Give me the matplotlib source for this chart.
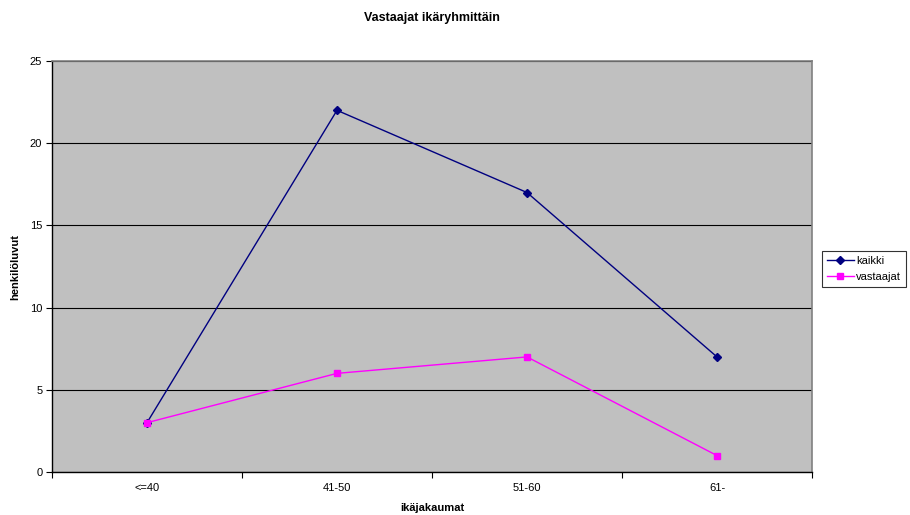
import matplotlib
matplotlib.use("Agg")
import numpy as np
from matplotlib import pyplot as plt

# data
ryhmat = ['<=40', '41-50', '51-60', '61-']
kaikki = [3, 22, 17, 7]
vastaajat = [3, 6, 7, 1]

plt.rcParams['font.family'] = ['Liberation Sans', 'DejaVu Sans']

fig = plt.figure(figsize=(9.1, 5.15), dpi=100)
ax = fig.add_axes([52/910, 1 - 472/515, 760/910, 411/515])
ax.set_facecolor('#c0c0c0')

x = np.arange(len(ryhmat))
ax.plot(x, kaikki, color='#000080', lw=1, marker='D', ms=4, label='kaikki')
ax.plot(x, vastaajat, color='#ff00ff', lw=1, marker='s', ms=5, label='vastaajat')

ax.set_xlim(-0.5, len(ryhmat) - 0.5)
ax.set_ylim(0, 25)
ax.set_yticks(range(0, 26, 5))
ax.yaxis.grid(True, color='black', lw=0.8)
ax.set_axisbelow(True)

ax.set_xticks(x)
ax.set_xticklabels(ryhmat)
ax.set_xticks(np.arange(-0.5, len(ryhmat), 1), minor=True)
ax.tick_params(axis='x', which='major', length=0, pad=8, labelsize=8)
ax.tick_params(axis='x', which='minor', length=4, direction='out', width=0.8)
ax.tick_params(axis='y', length=4, direction='out', width=0.8, labelsize=8, pad=3)

for s in ['top', 'right']:
    ax.spines[s].set_color('#808080')
    ax.spines[s].set_linewidth(1.2)
for s in ['left', 'bottom']:
    ax.spines[s].set_color('black')
    ax.spines[s].set_linewidth(1.0)

fig.text(0.5 * (52 + 812) / 910, 1 - 18/515, 'Vastaajat ikäryhmittäin',
         ha='center', va='center', fontsize=9, fontweight='bold')
ax.set_xlabel('ikäjakaumat', fontsize=8, fontweight='bold', labelpad=7)
ax.set_ylabel('henkilöluvut', fontsize=8, fontweight='bold', labelpad=7)

leg = ax.legend(loc='center left', bbox_to_anchor=(822/910, 1 - 269/515),
                bbox_transform=fig.transFigure, fontsize=8, frameon=True,
                fancybox=False, edgecolor='black', handlelength=2.4,
                borderpad=0.45, labelspacing=0.5, handletextpad=0.2,
                borderaxespad=0)
leg.get_frame().set_linewidth(0.8)

fig.savefig('out.png', dpi=100, facecolor='white')
